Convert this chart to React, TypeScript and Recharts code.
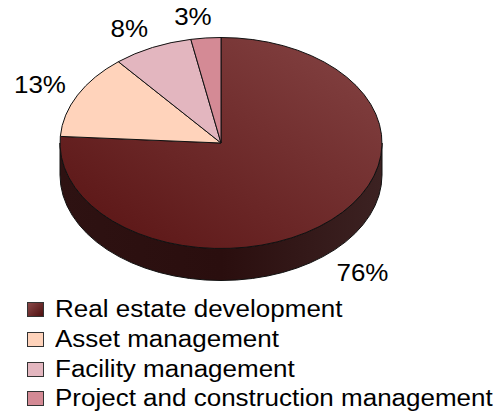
import { PieChart, Pie, Cell, Legend } from 'recharts';

const categories = [
  'Real estate development',
  'Asset management',
  'Facility management',
  'Project and construction management',
];
const shares = [76, 13, 8, 3];

const topFills = ['url(#redTop)', '#ffd3bb', '#e3b6bf', '#d48a95'];
const sideFills = ['url(#redSide)', '#c29a86', '#a98088', '#9a5e68'];
const swatches = ['linear-gradient(135deg, #8a4848, #4e1010)', '#ffd3bb', '#e3b6bf', '#d48a95'];

const data = categories.map((name, i) => ({ name, value: shares[i] }));

const RY_RATIO = 105.5 / 161;
const DEPTH = 32;
const RAD = Math.PI / 180;
const FONT = '"Liberation Sans", Arial, sans-serif';

const pt = (cx: number, cy: number, rx: number, ry: number, a: number) => [
  cx + rx * Math.cos(a * RAD),
  cy - ry * Math.sin(a * RAD),
];

function Slice3D(props: any) {
  const { cx, cy, outerRadius, startAngle, endAngle, index } = props;
  const rx = outerRadius;
  const ry = outerRadius * RY_RATIO;
  const lo = Math.min(startAngle, endAngle);
  const hi = Math.max(startAngle, endAngle);
  const [x1, y1] = pt(cx, cy, rx, ry, startAngle);
  const [x2, y2] = pt(cx, cy, rx, ry, endAngle);
  const large = hi - lo > 180 ? 1 : 0;
  const sweep = endAngle < startAngle ? 1 : 0;
  const top = `M${cx},${cy} L${x1},${y1} A${rx},${ry} 0 ${large} ${sweep} ${x2},${y2} Z`;

  // side wall, only where the slice covers the front (lower) half
  const walls: string[] = [];
  for (const k of [-1, 0, 1]) {
    const a = Math.max(lo, -180 + 360 * k);
    const b = Math.min(hi, 360 * k);
    if (b > a) {
      const [ax, ay] = pt(cx, cy, rx, ry, a);
      const [bx, by] = pt(cx, cy, rx, ry, b);
      walls.push(
        `M${ax},${ay} A${rx},${ry} 0 0 0 ${bx},${by} L${bx},${by + DEPTH} A${rx},${ry} 0 0 1 ${ax},${ay + DEPTH} Z`
      );
    }
  }

  return (
    <g>
      {walls.map((d, i) => (
        <path key={i} d={d} fill={sideFills[index]} stroke="#111" strokeWidth={1} />
      ))}
      <path d={top} fill={topFills[index]} stroke="#111" strokeWidth={1} />
    </g>
  );
}

function renderLabel(props: any) {
  const { cx, cy, midAngle, value } = props;
  const c = Math.cos(midAngle * RAD);
  const s = Math.sin(midAngle * RAD);
  const x = cx + 192 * c + 10 * Math.sign(c);
  const y = cy - 125.6 * s - 0.5 * Math.sign(s) + (s < 0 ? DEPTH * 1.2 : 0);
  return (
    <text
      transform={`translate(${x},${y}) scale(1.13,1)`}
      x={0}
      y={0}
      textAnchor="middle"
      dominantBaseline="central"
      fontSize={23}
      fontFamily={FONT}
      fill="#000"
    >
      {`${value}%`}
    </text>
  );
}

// legend keeps the data order (the default sorter would go alphabetical)
function LegendList() {
  return (
    <div style={{ position: 'relative' }}>
      {categories.map((name, i) => (
        <div
          key={name}
          style={{ height: 29.7, display: 'flex', alignItems: 'center', whiteSpace: 'nowrap' }}
        >
          <span
            style={{
              display: 'inline-block',
              marginLeft: 27,
              width: 15,
              height: 13,
              border: '1px solid #333',
              background: swatches[i],
            }}
          />
          <span
            style={{
              display: 'inline-block',
              marginLeft: 11,
              fontSize: 23,
              fontFamily: FONT,
              color: '#000',
              transform: 'scaleX(1.13)',
              transformOrigin: 'left center',
            }}
          >
            {name}
          </span>
        </div>
      ))}
    </div>
  );
}

export default function App() {
  return (
    <div style={{ position: 'absolute', left: 0, top: 0, width: 497, height: 416, background: '#fff' }}>
      <svg width={0} height={0} style={{ position: 'absolute' }}>
        <defs>
          <linearGradient id="redTop" x1="1" y1="0" x2="0" y2="1">
            <stop offset="0%" stopColor="#854444" />
            <stop offset="100%" stopColor="#581212" />
          </linearGradient>
          <linearGradient id="redSide" x1="0" y1="0" x2="1" y2="0">
            <stop offset="0%" stopColor="#2e1212" />
            <stop offset="50%" stopColor="#2a0e0e" />
            <stop offset="100%" stopColor="#3c2222" />
          </linearGradient>
        </defs>
      </svg>
      <PieChart width={497} height={416} margin={{ top: 0, right: 0, bottom: 0, left: 0 }}>
        <Pie
          data={data}
          dataKey="value"
          nameKey="name"
          cx={221}
          cy={143}
          outerRadius={161}
          startAngle={90}
          endAngle={-270}
          stroke="#111"
          labelLine={false}
          label={renderLabel}
          shape={Slice3D}
          inactiveShape={Slice3D}
          activeShape={Slice3D}
          isAnimationActive={false}
        >
          {data.map((d, i) => (
            <Cell key={d.name} fill={topFills[i]} />
          ))}
        </Pie>
        <Legend
          content={<LegendList />}
          wrapperStyle={{ left: 0, top: 295, width: 497 }}
        />
      </PieChart>
    </div>
  );
}
